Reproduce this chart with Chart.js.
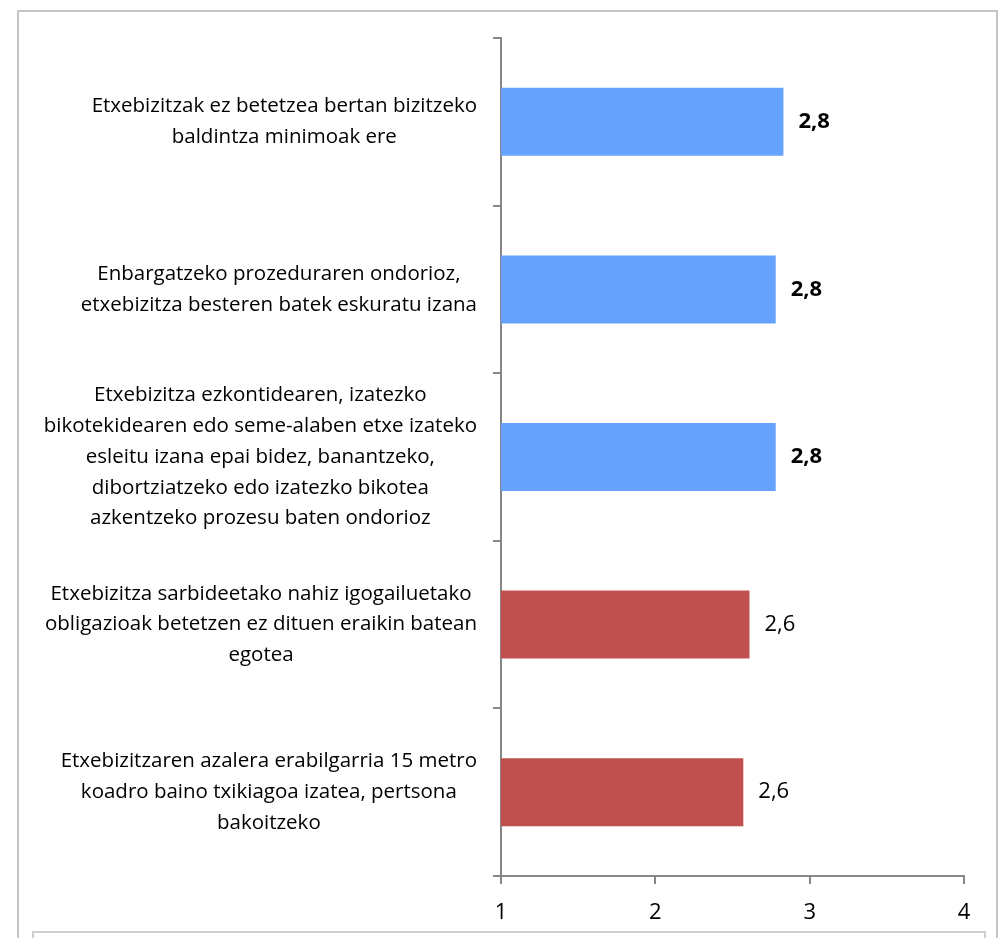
<!DOCTYPE html>
<html>
<head>
<meta charset="utf-8">
<script src="https://cdn.jsdelivr.net/npm/chart.js@4"></script>
<style>
  html, body { margin: 0; padding: 0; background: #fff; }
  body { width: 1004px; height: 938px; position: relative; overflow: hidden; }
  #frame { position: absolute; left: 17px; top: 10px; width: 981px; height: 960px; border: 2px solid #c4c4c4; box-sizing: border-box; }
  #legendBox { position: absolute; left: 32px; top: 931px; width: 954px; height: 40px; border: 2px solid #d0d0d0; box-sizing: border-box; }
  #wrap { position: absolute; left: 0; top: 0; width: 1004px; height: 938px; }
</style>
</head>
<body>
<div id="frame"></div>
<div id="legendBox"></div>
<div id="wrap"><canvas id="c" width="1004" height="938"></canvas></div>
<script>
const categories = [
  ["Etxebizitzak ez betetzea bertan bizitzeko", "baldintza minimoak ere"],
  ["Enbargatzeko prozeduraren ondorioz,", "etxebizitza besteren batek eskuratu izana"],
  ["Etxebizitza ezkontidearen, izatezko", "bikotekidearen edo seme-alaben etxe izateko", "esleitu izana epai bidez, banantzeko,", "dibortziatzeko edo izatezko bikotea", "azkentzeko prozesu baten ondorioz"],
  ["Etxebizitza sarbideetako nahiz igogailuetako", "obligazioak betetzen ez dituen eraikin batean", "egotea"],
  ["Etxebizitzaren azalera erabilgarria 15 metro", "koadro baino txikiagoa izatea, pertsona", "bakoitzeko"]
];
const values = [2.83, 2.78, 2.78, 2.61, 2.57];
const boldLabel = [true, true, true, false, false];
const xTicks = [1, 2, 3, 4];
const barColors = ["#66A3FF", "#66A3FF", "#66A3FF", "#C0504D", "#C0504D"];

const FONT = "'Open Sans'";
const LABEL_SIZE = 20.5;
const LINE_H = 30.7;
const AXIS_X = 501, LABEL_RIGHT = 477, TICK_LEN = 8;

// category labels: each block right-aligned near the axis, lines centred within the block
const categoryLabels = {
  id: 'categoryLabels',
  afterDraw(chart) {
    const ctx = chart.ctx;
    const yScale = chart.scales.y;
    ctx.save();
    ctx.fillStyle = "#000";
    ctx.font = LABEL_SIZE + "px " + FONT;
    ctx.textAlign = "center";
    ctx.textBaseline = "middle";
    yScale.ticks.forEach((t, i) => {
      const lines = categories[t.value];
      const w = Math.max(...lines.map(l => ctx.measureText(l).width));
      const cx = LABEL_RIGHT - w / 2;
      const cy = yScale.getPixelForTick(i);
      const y0 = cy - (lines.length - 1) * LINE_H / 2;
      lines.forEach((l, k) => ctx.fillText(l, cx, y0 + k * LINE_H));
    });
    ctx.restore();
  }
};

const valueLabels = {
  id: 'valueLabels',
  afterDatasetsDraw(chart) {
    const ctx = chart.ctx;
    const meta = chart.getDatasetMeta(0);
    ctx.save();
    ctx.fillStyle = "#000";
    ctx.textBaseline = "middle";
    ctx.textAlign = "left";
    meta.data.forEach((bar, i) => {
      ctx.font = (boldLabel[i] ? "bold 22px " : "22px ") + FONT;
      const txt = values[i].toFixed(1).replace('.', ',');
      ctx.fillText(txt, bar.x + 15, bar.y);
    });
    ctx.restore();
  }
};

new Chart(document.getElementById('c'), {
  type: 'bar',
  data: {
    labels: categories.map((c, i) => i),
    datasets: [{
      data: values,
      backgroundColor: barColors,
      borderWidth: 0,
      categoryPercentage: 1,
      barPercentage: 0.406
    }]
  },
  options: {
    indexAxis: 'y',
    responsive: false,
    animation: false,
    devicePixelRatio: 1,
    layout: { padding: { left: 0, right: 40, top: 38, bottom: 0 } },
    plugins: { legend: { display: false }, tooltip: { enabled: false } },
    scales: {
      x: {
        min: 1, max: 4,
        afterBuildTicks(scale) { scale.ticks = xTicks.map(v => ({ value: v })); },
        afterFit(scale) { scale.height = 938 - 876; scale.paddingLeft = 0; scale.paddingRight = 0; },
        grid: { drawOnChartArea: false, tickLength: TICK_LEN, color: "#868686", lineWidth: 2 },
        border: { display: true, color: "#868686", width: 2 },
        ticks: { font: { family: FONT, size: 22 }, color: "#000", padding: 16, maxRotation: 0 }
      },
      y: {
        afterFit(scale) { scale.width = AXIS_X; scale.paddingTop = 0; scale.paddingBottom = 0; },
        grid: { drawOnChartArea: false, tickLength: TICK_LEN, color: "#868686", lineWidth: 2, offset: true },
        border: { display: true, color: "#868686", width: 2 },
        ticks: { display: false }
      }
    }
  },
  plugins: [valueLabels, categoryLabels]
});
</script>
</body>
</html>
